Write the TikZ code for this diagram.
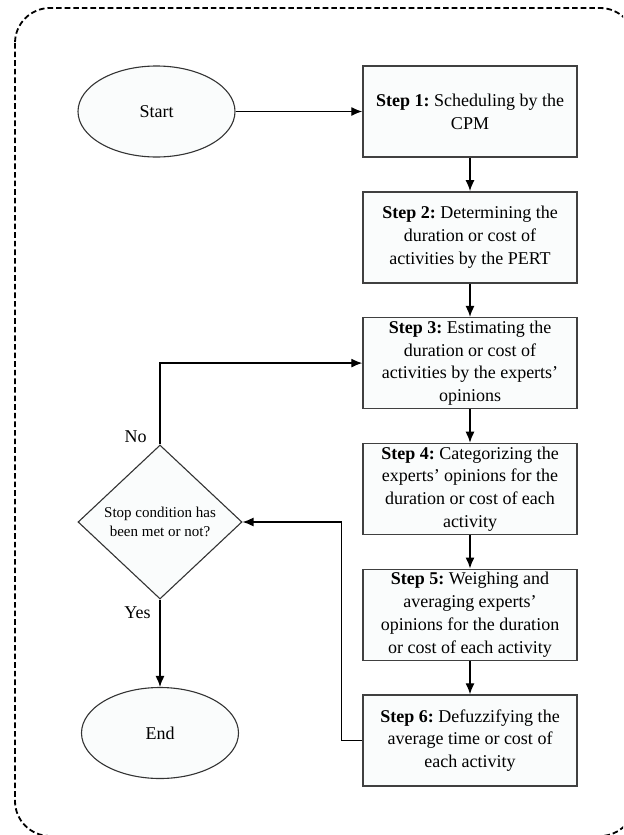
\documentclass[tikz,border=0pt]{standalone}
\usepackage{fontspec}
\setmainfont{Liberation Serif}
\usetikzlibrary{shapes,arrows.meta,positioning}
\definecolor{boxfill}{RGB}{250,252,252}
\frenchspacing

\begin{document}
\begin{tikzpicture}[x=0.5pt,y=-0.5pt,
    stepbox/.style={rectangle,draw=black!75,line width=0.7pt,fill=boxfill,minimum width=107pt,minimum height=45.5pt,inner xsep=2pt,inner ysep=1.5pt,align=center,font=\fontsize{9}{11.4}\selectfont},
    terminal/.style={ellipse,draw=black!80,line width=0.55pt,fill=boxfill,minimum width=78.5pt,minimum height=45.5pt,font=\fontsize{9}{11}\selectfont},
    decision/.style={diamond,draw=black!80,line width=0.55pt,fill=boxfill,minimum width=82pt,minimum height=77pt,inner sep=0pt,align=center,font=\fontsize{7.5}{9.5}\selectfont},
    arrow/.style={-{Latex[length=5.5pt,width=4.5pt]},line width=0.65pt},
    lbl/.style={font=\fontsize{9}{11}\selectfont}]
    \useasboundingbox (0,0) rectangle (623,835);
    % dashed frame, cut at the page edge
    \begin{scope}
        \clip (0,0) rectangle (623,835);
        \draw[line width=0.9pt,dash pattern=on 2.8pt off 1.5pt,rounded corners=17.5pt] (15,8) rectangle (635,836);
    \end{scope}
    \node[terminal] (start) at (156.5,111.5) {Start};
    \node[stepbox] (step1) at (470,111.5) {\textbf{Step 1:} Scheduling by the\\CPM};
    \node[stepbox,below=16.7pt of step1] (step2) {\textbf{Step 2:} Determining the\\duration or cost of\\activities by the PERT};
    \node[stepbox,below=16.7pt of step2] (step3) {\textbf{Step 3:} Estimating the\\duration or cost of\\activities by the experts'\\opinions};
    \node[stepbox,below=16.7pt of step3] (step4) {\textbf{Step 4:} Categorizing the\\experts' opinions for the\\duration or cost of each\\activity};
    \node[stepbox,below=16.7pt of step4] (step5) {\textbf{Step 5:} Weighing and\\averaging experts'\\opinions for the duration\\or cost of each activity};
    \node[stepbox,below=16.7pt of step5] (step6) {\textbf{Step 6:} Defuzzifying the\\average time or cost of\\each activity};
    \node[decision] (cond) at (160,522) {Stop condition has\\been met or not?};
    \node[terminal] (finish) at (160,733) {End};
    \draw[arrow] (start) -- (step1);
    \foreach \a/\b in {step1/step2,step2/step3,step3/step4,step4/step5,step5/step6}
        \draw[arrow] (\a) -- (\b);
    \draw[arrow] (cond.north) |- (step3.west) node[pos=0.05,left,lbl,xshift=-3pt] {No};
    \draw[arrow] (cond.south) -- (finish.north) node[pos=0.15,left,lbl,xshift=-1pt] {Yes};
    \draw[arrow] (step6.west) -- ++(-21,0) |- (cond.east);
\end{tikzpicture}
\end{document}
